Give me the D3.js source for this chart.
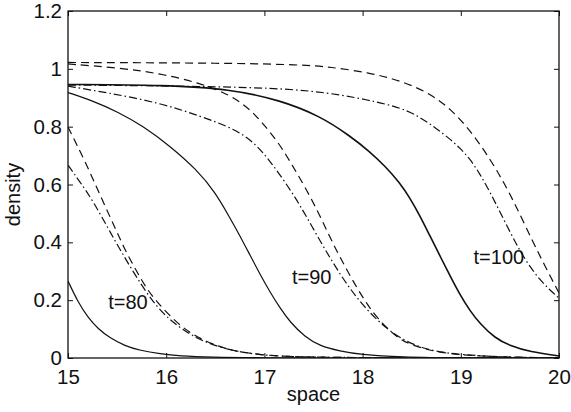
<!DOCTYPE html>
<html><head><meta charset="utf-8">
<script src="https://cdn.jsdelivr.net/npm/d3@7"></script>
<style>body{margin:0;background:#fff}svg{display:block}text{font-family:"Liberation Sans",Arial,sans-serif;fill:#111}</style>
</head><body>
<svg id="chart" width="571" height="412"></svg>
<script>
// ---- data (x = space, y = density) ----
const xTicks = [15, 16, 17, 18, 19, 20];
const yTicks = [0, 0.2, 0.4, 0.6, 0.8, 1, 1.2];
const xLabel = "space";
const yLabel = "density";

const solid80 = [[15,0.266],[15.102,0.193],[15.204,0.14],[15.306,0.101],[15.428,0.069],[15.58,0.042],[15.733,0.026],[15.937,0.014],[16.141,0.007],[16.446,0.003],[16.955,0.0005],[18,0],[20,0]];
const solid90 = [[15,0.918],[15.255,0.889],[15.509,0.851],[15.764,0.802],[16.039,0.733],[16.314,0.65],[16.497,0.574],[16.65,0.484],[16.752,0.422],[16.853,0.356],[16.955,0.29],[17.057,0.228],[17.159,0.173],[17.261,0.124],[17.413,0.073],[17.566,0.041],[17.77,0.024],[17.974,0.012],[18.381,0.003],[19,0],[20,0]];
const solid100 = [[15,0.946],[15.998,0.944],[16.65,0.93],[17.159,0.892],[17.566,0.837],[17.872,0.768],[18.075,0.713],[18.228,0.664],[18.381,0.605],[18.483,0.553],[18.585,0.491],[18.686,0.422],[18.788,0.353],[18.89,0.284],[18.992,0.218],[19.094,0.163],[19.196,0.118],[19.348,0.069],[19.501,0.042],[19.705,0.021],[20,0.007]];

const dash80 = [[15,0.799],[15.173,0.681],[15.326,0.564],[15.479,0.45],[15.58,0.374],[15.703,0.297],[15.804,0.238],[15.906,0.194],[16.039,0.145],[16.171,0.104],[16.344,0.066],[16.619,0.028],[16.955,0.01],[17.363,0.003],[18.38,0],[20,0]];
const dash90 = [[15,1.017],[15.53,1.003],[15.937,0.984],[16.344,0.951],[16.65,0.91],[16.853,0.861],[17.006,0.803],[17.159,0.737],[17.281,0.668],[17.413,0.592],[17.536,0.512],[17.637,0.44],[17.739,0.368],[17.841,0.304],[17.943,0.242],[18.045,0.187],[18.147,0.138],[18.33,0.076],[18.483,0.045],[18.788,0.017],[19.196,0.005],[20,0]];
const dash100 = [[15,1.022],[16.65,1.02],[17.363,1.014],[17.668,1.007],[18.075,0.986],[18.381,0.96],[18.686,0.916],[18.921,0.854],[19.124,0.775],[19.297,0.688],[19.43,0.612],[19.552,0.533],[19.735,0.401],[19.857,0.318],[20,0.225]];

const dot80 = [[15,0.667],[15.122,0.609],[15.255,0.543],[15.428,0.436],[15.631,0.315],[15.866,0.19],[16.039,0.131],[16.191,0.093],[16.344,0.062],[16.619,0.028],[16.955,0.01],[17.363,0.003],[18.38,0],[20,0]];
const dot90 = [[15,0.94],[15.428,0.916],[15.937,0.882],[16.344,0.837],[16.701,0.792],[16.904,0.743],[17.057,0.681],[17.21,0.609],[17.363,0.529],[17.515,0.436],[17.668,0.346],[17.821,0.263],[17.974,0.194],[18.126,0.138],[18.279,0.093],[18.432,0.059],[18.635,0.031],[18.89,0.014],[19.399,0.003],[20,0]];
const dot100 = [[15,0.944],[16.65,0.939],[17.495,0.927],[18.075,0.892],[18.411,0.863],[18.585,0.833],[18.758,0.792],[18.89,0.757],[18.992,0.726],[19.094,0.688],[19.196,0.636],[19.297,0.574],[19.399,0.505],[19.501,0.436],[19.603,0.37],[19.705,0.315],[19.807,0.27],[19.908,0.235],[20,0.207]];

const annotations = [
  {text:"t=80", x:15.41, y:0.17},
  {text:"t=90", x:17.28, y:0.255},
  {text:"t=100", x:19.13, y:0.325}
];

// ---- layout ----
const svg = d3.select("#chart");
const L = 68, R = 559, T = 11, B = 358;
const x = d3.scaleLinear().domain([15, 20]).range([L, R]);
const y = d3.scaleLinear().domain([0, 1.2]).range([B, T]);
const fmt = d3.format("~g");

const DASH = "8,5", DOT = "8,3,1.5,3";
const series = [
  {data: solid80, dash: null, w: 1.2},
  {data: solid90, dash: null, w: 1.2},
  {data: solid100, dash: null, w: 1.6},
  {data: dash80, dash: DASH, w: 1.2},
  {data: dash90, dash: DASH, w: 1.2},
  {data: dash100, dash: DASH, w: 1.2},
  {data: dot80, dash: DOT, w: 1.2},
  {data: dot90, dash: DOT, w: 1.2},
  {data: dot100, dash: DOT, w: 1.2}
];

const line = d3.line().x(d => x(d[0])).y(d => y(d[1])).curve(d3.curveBasis);

svg.append("defs").append("clipPath").attr("id","clip")
  .append("rect").attr("x",L).attr("y",T).attr("width",R-L).attr("height",B-T);

svg.append("g").attr("clip-path","url(#clip)").selectAll("path").data(series).join("path")
  .attr("d", s => line(s.data))
  .attr("fill","none").attr("stroke","#111")
  .attr("stroke-width", s => s.w)
  .attr("stroke-dasharray", s => s.dash);

// axes
const styleAxis = g => {
  g.select(".domain").remove();
  g.selectAll(".tick line").attr("stroke","#111").attr("stroke-width",1);
  g.selectAll(".tick text").style("font-size","20.5px").attr("fill","#111");
};
svg.append("g").attr("transform",`translate(0,${B})`)
  .call(d3.axisBottom(x).tickValues(xTicks).tickFormat(fmt).tickSizeInner(-5).tickSizeOuter(0).tickPadding(11))
  .call(styleAxis);
svg.append("g").attr("transform",`translate(0,${T})`)
  .call(d3.axisTop(x).tickValues(xTicks).tickFormat("").tickSizeInner(-5).tickSizeOuter(0))
  .call(styleAxis);
svg.append("g").attr("transform",`translate(${L},0)`)
  .call(d3.axisLeft(y).tickValues(yTicks).tickFormat(fmt).tickSizeInner(-5).tickSizeOuter(0).tickPadding(6))
  .call(styleAxis);
svg.append("g").attr("transform",`translate(${R},0)`)
  .call(d3.axisRight(y).tickValues(yTicks).tickFormat("").tickSizeInner(-5).tickSizeOuter(0))
  .call(styleAxis);

svg.append("rect").attr("x",L).attr("y",T).attr("width",R-L).attr("height",B-T)
  .attr("fill","none").attr("stroke","#111").attr("stroke-width",1.3);

// labels
svg.append("text").attr("x",(L+R)/2).attr("y",401).attr("text-anchor","middle")
  .style("font-size","20px").text(xLabel);
svg.append("text").attr("transform",`translate(20,${(T+B)/2+10}) rotate(-90)`).attr("text-anchor","middle")
  .style("font-size","20px").text(yLabel);

svg.selectAll(".ann").data(annotations).join("text").attr("class","ann")
  .attr("x", d => x(d.x)).attr("y", d => y(d.y))
  .style("font-size","20px").text(d => d.text);
</script>
</body></html>
